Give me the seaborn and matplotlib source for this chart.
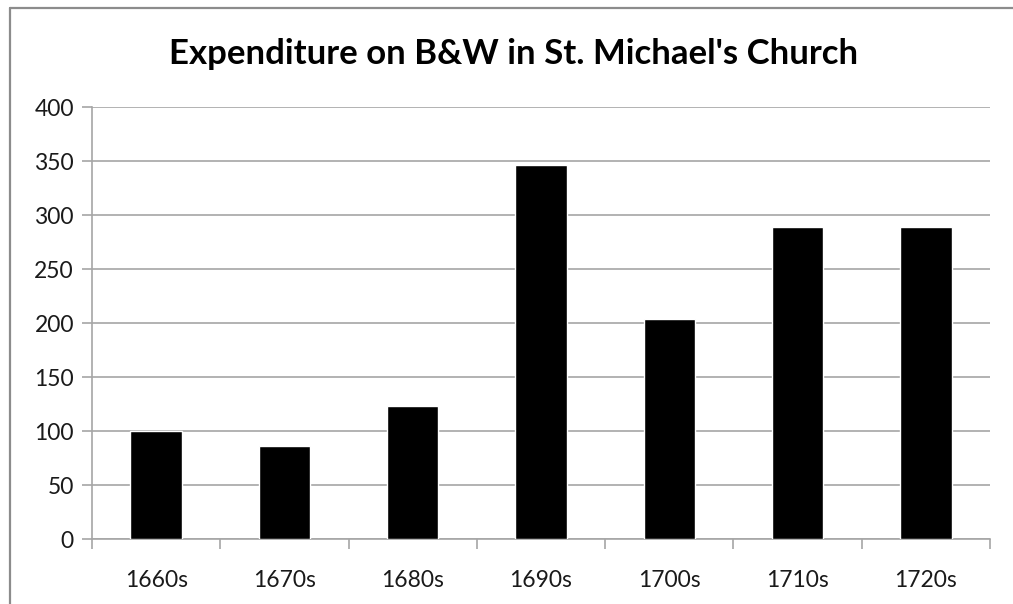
import numpy as np
import pandas as pd
import matplotlib.pyplot as plt
import seaborn as sns
from matplotlib.ticker import FixedLocator
from matplotlib.lines import Line2D

decades = ['1660s', '1670s', '1680s', '1690s', '1700s', '1710s', '1720s']
expenditure = [100, 86, 123, 346, 204, 289, 289]
y_ticks = [0, 50, 100, 150, 200, 250, 300, 350, 400]

df = pd.DataFrame({'Decade': decades, 'Expenditure': expenditure})

sns.set_style('white')
plt.rcParams['font.family'] = ['Lato', 'DejaVu Sans']

fig = plt.figure(figsize=(10.13, 6.04), dpi=100)
ax = fig.add_axes([92 / 1013, 1 - 539 / 604, (990 - 92) / 1013, (539 - 107) / 604])

sns.barplot(data=df, x='Decade', y='Expenditure', color='black', width=0.4,
            saturation=1, ax=ax, zorder=3)

ax.set_xlim(-0.5, len(decades) - 0.5)
ax.set_ylim(0, 400)
ax.set_yticks(y_ticks)
ax.yaxis.grid(True, color='#a6a6a6', linewidth=1.2, zorder=0)
ax.set_axisbelow(True)
ax.set_xlabel('')
ax.set_ylabel('')

for s in ['top', 'right']:
    ax.spines[s].set_visible(False)
for s in ['left', 'bottom']:
    ax.spines[s].set_color('#a6a6a6')
    ax.spines[s].set_linewidth(1.2)

ax.tick_params(axis='y', which='major', length=7, width=1.2, color='#a6a6a6',
               labelsize=16.5, labelcolor='#1a1a1a', pad=6, left=True)
ax.tick_params(axis='x', which='major', length=0, labelsize=16.5,
               labelcolor='#1a1a1a', pad=22)
ax.xaxis.set_minor_locator(FixedLocator(np.arange(-0.5, len(decades), 1.0)))
ax.tick_params(axis='x', which='minor', length=7, width=1.2, color='#a6a6a6',
               bottom=True)

fig.text(0.507, 1 - 54 / 604, "Expenditure on B&W in St. Michael's Church",
         ha='center', va='center', fontsize=25, fontweight='bold', color='black')

# outer chart frame (only top and left edges fall inside the image)
fig.add_artist(Line2D([10 / 1013, 1], [1 - 8 / 604, 1 - 8 / 604],
                      transform=fig.transFigure, color='#8c8c8c', linewidth=1.6))
fig.add_artist(Line2D([10 / 1013, 10 / 1013], [0, 1 - 8 / 604],
                      transform=fig.transFigure, color='#8c8c8c', linewidth=1.6))

fig.savefig('out.png', dpi=100)
